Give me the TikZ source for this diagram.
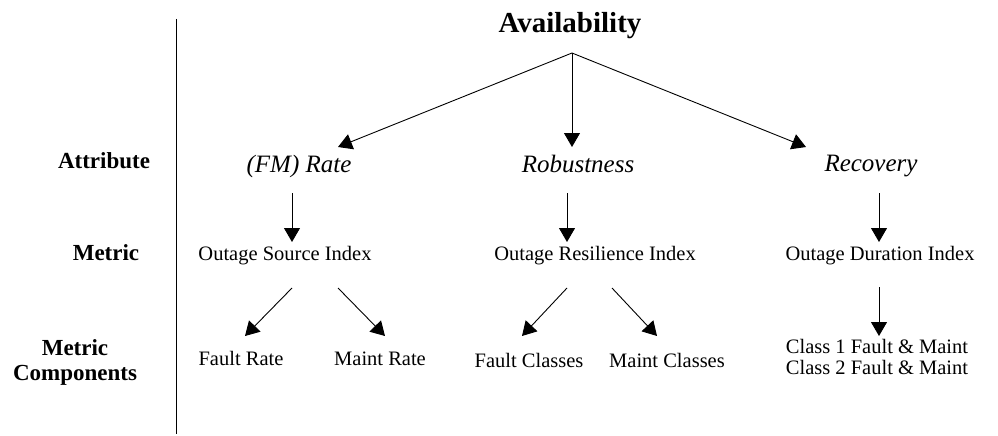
\documentclass[tikz,border=0pt]{standalone}
\usepackage{fontspec}
\setmainfont{Liberation Serif}
\usetikzlibrary{arrows.meta}
\tikzset{
  lbl/.style={inner sep=0pt, anchor=base, font=\fontsize{23}{26}\selectfont\bfseries},
  title/.style={inner sep=0pt, anchor=base, font=\fontsize{29}{32}\selectfont\bfseries},
  attr/.style={inner sep=0pt, anchor=base, font=\fontsize{25}{28}\selectfont\itshape},
  txt/.style={inner sep=0pt, anchor=base, font=\fontsize{20.5}{21}\selectfont},
  arr/.style={line width=0.9pt, -{Triangle[length=14pt,width=16pt]}},
}
\begin{document}
\begin{tikzpicture}[x=1pt,y=-1pt]
\useasboundingbox (0,0) rectangle (998,436);
% divider between row labels and tree
\coordinate (divtop) at (176,19);
\coordinate (divbot) at (176,434);
\draw[line width=0.9pt] (divtop) -- (divbot);

% row labels
\node[lbl] (lattr) at (104,168) {Attribute};
\node[lbl] (lmetric) at (106,260) {Metric};
\node[lbl] (lcomp1) at (75,355) {Metric};
\node[lbl] (lcomp2) at (75,380) {Components};

% root
\node[title] (avail) at (570,33) {Availability};
\coordinate (root) at (572,53);

% attributes
\node[attr] (rate) at (299,172) {(FM) Rate};
\node[attr] (robust) at (578,172) {Robustness};
\node[attr] (recov) at (871,171) {Recovery};
\coordinate (rateIn) at (338,147);
\coordinate (robustIn) at (572,147);
\coordinate (recovIn) at (806,147);
\draw[arr] (root) -- (rateIn);
\draw[arr] (root) -- (robustIn);
\draw[arr] (root) -- (recovIn);

% metrics
\node[txt] (osi) at (285,260) {Outage Source Index};
\node[txt] (ori) at (595,260) {Outage Resilience Index};
\node[txt] (odi) at (880,260) {Outage Duration Index};
\coordinate (rateOut) at (292,193);
\coordinate (osiIn) at (292,242);
\coordinate (robustOut) at (567,193);
\coordinate (oriIn) at (567,242);
\coordinate (recovOut) at (879,193);
\coordinate (odiIn) at (879,242);
\draw[arr] (rateOut) -- (osiIn);
\draw[arr] (robustOut) -- (oriIn);
\draw[arr] (recovOut) -- (odiIn);

% metric components
\node[txt] (frate) at (241,365) {Fault Rate};
\node[txt] (mrate) at (380,365) {Maint Rate};
\node[txt] (fcls) at (529,367) {Fault Classes};
\node[txt] (mcls) at (667,367) {Maint Classes};
\node[txt] (cls1) at (877,353) {Class 1 Fault \& Maint};
\node[txt] (cls2) at (877,374) {Class 2 Fault \& Maint};

\coordinate (osiL) at (292,288);
\coordinate (osiR) at (338,288);
\coordinate (frateIn) at (245,336);
\coordinate (mrateIn) at (385,336);
\draw[arr] (osiL) -- (frateIn);
\draw[arr] (osiR) -- (mrateIn);

\coordinate (oriL) at (567,288);
\coordinate (oriR) at (612,288);
\coordinate (fclsIn) at (522,336);
\coordinate (mclsIn) at (657,336);
\draw[arr] (oriL) -- (fclsIn);
\draw[arr] (oriR) -- (mclsIn);

\coordinate (odiOut) at (879,287);
\coordinate (clsIn) at (879,336);
\draw[arr] (odiOut) -- (clsIn);
\end{tikzpicture}
\end{document}
